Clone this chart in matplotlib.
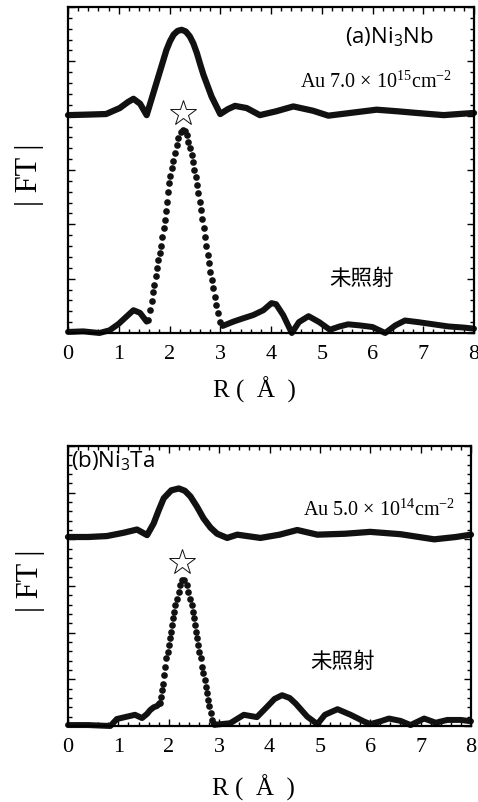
import numpy as np
import matplotlib
matplotlib.use("Agg")
import matplotlib.pyplot as plt
from matplotlib.ticker import MultipleLocator

# ---- data (R in Angstrom, |FT| in arbitrary units) ----
# (a) Ni3Nb, irradiated with Au 7.0e15 cm^-2 (upper trace, offset)
up_a_r = [0, 0.4, 0.75, 1.02, 1.18, 1.29, 1.42, 1.55, 1.68, 1.81, 1.94, 2.01, 2.08, 2.16,
          2.24, 2.32, 2.40, 2.47, 2.54, 2.60, 2.67, 2.83, 3.0, 3.15, 3.29, 3.52, 3.78, 4.1,
          4.44, 4.83, 5.13, 5.56, 6.08, 6.5, 6.87, 7.4, 8.0]
up_a_v = [4.01, 4.02, 4.03, 4.14, 4.25, 4.31, 4.22, 4.01, 4.41, 4.81, 5.21, 5.37, 5.49, 5.56,
          5.58, 5.55, 5.46, 5.33, 5.15, 4.96, 4.75, 4.35, 4.03, 4.12, 4.18, 4.14, 4.01, 4.08,
          4.17, 4.09, 4.0, 4.05, 4.11, 4.08, 4.05, 4.01, 4.05]

# (a) unirradiated (lower trace)
lo_a_r = [0, 0.3, 0.62, 0.82, 1.0, 1.15, 1.29, 1.42, 1.55,
          1.57, 1.62, 1.65, 1.68, 1.70, 1.73, 1.75, 1.78, 1.81, 1.83, 1.86, 1.89, 1.91,
          1.94, 1.96, 1.98, 1.99, 2.01, 2.04, 2.06, 2.10, 2.14, 2.17, 2.22, 2.27, 2.31,
          2.34, 2.37, 2.40, 2.44, 2.47, 2.49, 2.52, 2.54, 2.57, 2.60, 2.63, 2.65, 2.67,
          2.70, 2.72, 2.75, 2.78, 2.80, 2.83, 2.86, 2.90, 2.92, 2.95, 3.00, 3.05,
          3.1, 3.26, 3.45, 3.65, 3.85, 4.01, 4.1, 4.24, 4.41, 4.55, 4.74, 4.95, 5.16,
          5.35, 5.52, 5.75, 6.0, 6.25, 6.45, 6.64, 6.9, 7.2, 7.5, 7.8, 8.0]
lo_a_v = [0.02, 0.03, 0.0, 0.05, 0.17, 0.30, 0.42, 0.37, 0.21,
          0.24, 0.42, 0.58, 0.76, 0.88, 1.04, 1.19, 1.34, 1.47, 1.60, 1.77, 1.93, 2.08,
          2.25, 2.42, 2.60, 2.76, 2.89, 3.03, 3.17, 3.31, 3.46, 3.59, 3.70, 3.74, 3.71,
          3.65, 3.52, 3.40, 3.28, 3.14, 3.00, 2.87, 2.73, 2.57, 2.42, 2.27, 2.09, 1.93,
          1.77, 1.60, 1.44, 1.28, 1.13, 0.98, 0.82, 0.67, 0.52, 0.36, 0.21, 0.13,
          0.15, 0.21, 0.27, 0.33, 0.42, 0.55, 0.53, 0.33, 0.0, 0.20, 0.31, 0.20, 0.06,
          0.12, 0.16, 0.14, 0.11, 0.0, 0.14, 0.23, 0.20, 0.16, 0.12, 0.10, 0.08]

# (b) Ni3Ta, irradiated with Au 5.0e14 cm^-2 (upper trace, offset)
up_b_r = [0, 0.4, 0.77, 1.1, 1.37, 1.57, 1.7, 1.8, 1.9, 2.05, 2.2, 2.32, 2.43, 2.56, 2.69,
          2.83, 2.96, 3.16, 3.36, 3.82, 4.2, 4.55, 4.95, 5.5, 6.0, 6.6, 7.27, 7.7, 8.0]
up_b_v = [4.05, 4.05, 4.07, 4.14, 4.21, 4.09, 4.34, 4.62, 4.88, 5.05, 5.09, 5.04, 4.92, 4.70,
          4.45, 4.25, 4.12, 4.03, 4.10, 4.03, 4.1, 4.2, 4.1, 4.12, 4.16, 4.11, 4.0, 4.05, 4.1]

# (b) unirradiated (lower trace)
lo_b_r = [0, 0.4, 0.84, 0.97, 1.17, 1.33, 1.47, 1.57, 1.63, 1.70, 1.77, 1.82,
          1.84, 1.86, 1.88, 1.91, 1.93, 1.95, 1.98, 2.00, 2.02, 2.04, 2.06, 2.08, 2.11,
          2.13, 2.16, 2.20, 2.23, 2.27, 2.31, 2.36, 2.39, 2.43, 2.46, 2.48, 2.51, 2.53,
          2.55, 2.57, 2.59, 2.61, 2.64, 2.66, 2.68, 2.71, 2.73, 2.75, 2.77, 2.79, 2.83,
          2.86, 2.89, 2.95, 3.22, 3.49, 3.75, 3.95, 4.1, 4.25, 4.4, 4.52, 4.75, 4.95,
          5.1, 5.35, 5.61, 5.87, 6.0, 6.2, 6.37, 6.6, 6.8, 7.07, 7.3, 7.53, 7.8, 8.0]
lo_b_v = [0.02, 0.02, 0.0, 0.15, 0.20, 0.24, 0.17, 0.26, 0.34, 0.40, 0.43, 0.49,
          0.63, 0.77, 0.91, 1.09, 1.27, 1.45, 1.59, 1.73, 1.88, 2.02, 2.16, 2.31, 2.45,
          2.59, 2.73, 2.88, 3.02, 3.12, 3.13, 3.02, 2.88, 2.73, 2.59, 2.45, 2.31, 2.16,
          2.02, 1.88, 1.73, 1.59, 1.45, 1.27, 1.13, 0.98, 0.84, 0.70, 0.56, 0.42, 0.27,
          0.13, 0.05, 0.03, 0.06, 0.24, 0.19, 0.41, 0.58, 0.66, 0.60, 0.48, 0.20, 0.04,
          0.24, 0.36, 0.24, 0.10, 0.04, 0.10, 0.16, 0.11, 0.02, 0.16, 0.07, 0.13, 0.13, 0.10]

star_a = (2.26, 4.04)
star_b = (2.27, 3.51)

ink = "#111111"
serif = "Liberation Serif"
cjk = ["Noto Sans CJK JP", "DejaVu Sans"]
sans = "Open Sans"


def draw_lower(ax, r, v, lo, hi):
    r = np.asarray(r)
    v = np.asarray(v)
    left = r <= lo
    right = r >= hi
    dots = (r >= lo) & (r <= hi)
    ax.plot(r[left], v[left], color=ink, lw=4.3, solid_capstyle="round", clip_on=False)
    ax.plot(r[right], v[right], color=ink, lw=4.3, solid_capstyle="round", clip_on=False)
    ax.plot(r[dots], v[dots], "o", color=ink, ms=4.8, mew=0, clip_on=False)


def style_axes(ax, xlabel_y):
    ax.set_xlim(0, 8)
    ax.set_ylim(0, 6)
    ax.xaxis.set_major_locator(MultipleLocator(1))
    ax.xaxis.set_minor_locator(MultipleLocator(0.2))
    ax.yaxis.set_major_locator(MultipleLocator(1))
    ax.yaxis.set_minor_locator(MultipleLocator(0.2))
    ax.tick_params(which="both", direction="in", top=True, right=True, width=1)
    ax.tick_params(which="major", length=5)
    ax.tick_params(which="minor", length=3)
    ax.tick_params(axis="x", pad=9)
    ax.set_yticklabels([])
    for lab in ax.get_xticklabels():
        lab.set_fontfamily(serif)
        lab.set_fontsize(16)
    for sp in ax.spines.values():
        sp.set_linewidth(1.6)
    ax.set_xlabel("R (  Å  )", family=serif, fontsize=18)
    ax.xaxis.set_label_coords(0.46, xlabel_y)


fig = plt.figure(figsize=(4.78, 8.02), dpi=100)

# ---- panel (a) ----
ax1 = fig.add_axes([68 / 478, 1 - 333 / 802, 406 / 478, 326 / 802])
ax1.plot(up_a_r, up_a_v, color=ink, lw=4.5, solid_capstyle="round", clip_on=False)
draw_lower(ax1, lo_a_r, lo_a_v, 1.56, 3.04)
ax1.plot(*star_a, marker="*", ms=19, mfc="white", mec=ink, mew=0.7)
style_axes(ax1, -0.135)
ax1.text(6.33, 5.45, r"(a)Ni$_\mathregular{3}$Nb", family=sans, fontsize=16,
         ha="center", va="center")
ax1.text(6.07, 4.62, r"Au 7.0 × 10$^\mathregular{15}$cm$^\mathregular{-2}$",
         family=serif, fontsize=14.5, ha="center", va="center")
ax1.text(5.78, 0.99, "未照射", family=cjk, fontsize=15.5, ha="center", va="center")
ax1.text(-0.094, 0.485, "| FT |", family=serif, fontsize=22, rotation=90,
         ha="center", va="center", transform=ax1.transAxes)

# ---- panel (b) ----
ax2 = fig.add_axes([68 / 478, 1 - 726 / 802, 403 / 478, 280 / 802])
ax2.plot(up_b_r, up_b_v, color=ink, lw=4.5, solid_capstyle="round", clip_on=False)
draw_lower(ax2, lo_b_r, lo_b_v, 1.82, 2.89)
ax2.plot(*star_b, marker="*", ms=19, mfc="white", mec=ink, mew=0.7)
style_axes(ax2, -0.175)
ax2.text(0.06, 5.67, r"(b)Ni$_\mathregular{3}$Ta", family=sans, fontsize=16,
         ha="left", va="center")
ax2.text(6.17, 4.63, r"Au 5.0 × 10$^\mathregular{14}$cm$^\mathregular{-2}$",
         family=serif, fontsize=14.5, ha="center", va="center")
ax2.text(5.45, 1.37, "未照射", family=cjk, fontsize=15.5, ha="center", va="center")
ax2.text(-0.094, 0.518, "| FT |", family=serif, fontsize=22, rotation=90,
         ha="center", va="center", transform=ax2.transAxes)

fig.savefig("out.png", dpi=100)
